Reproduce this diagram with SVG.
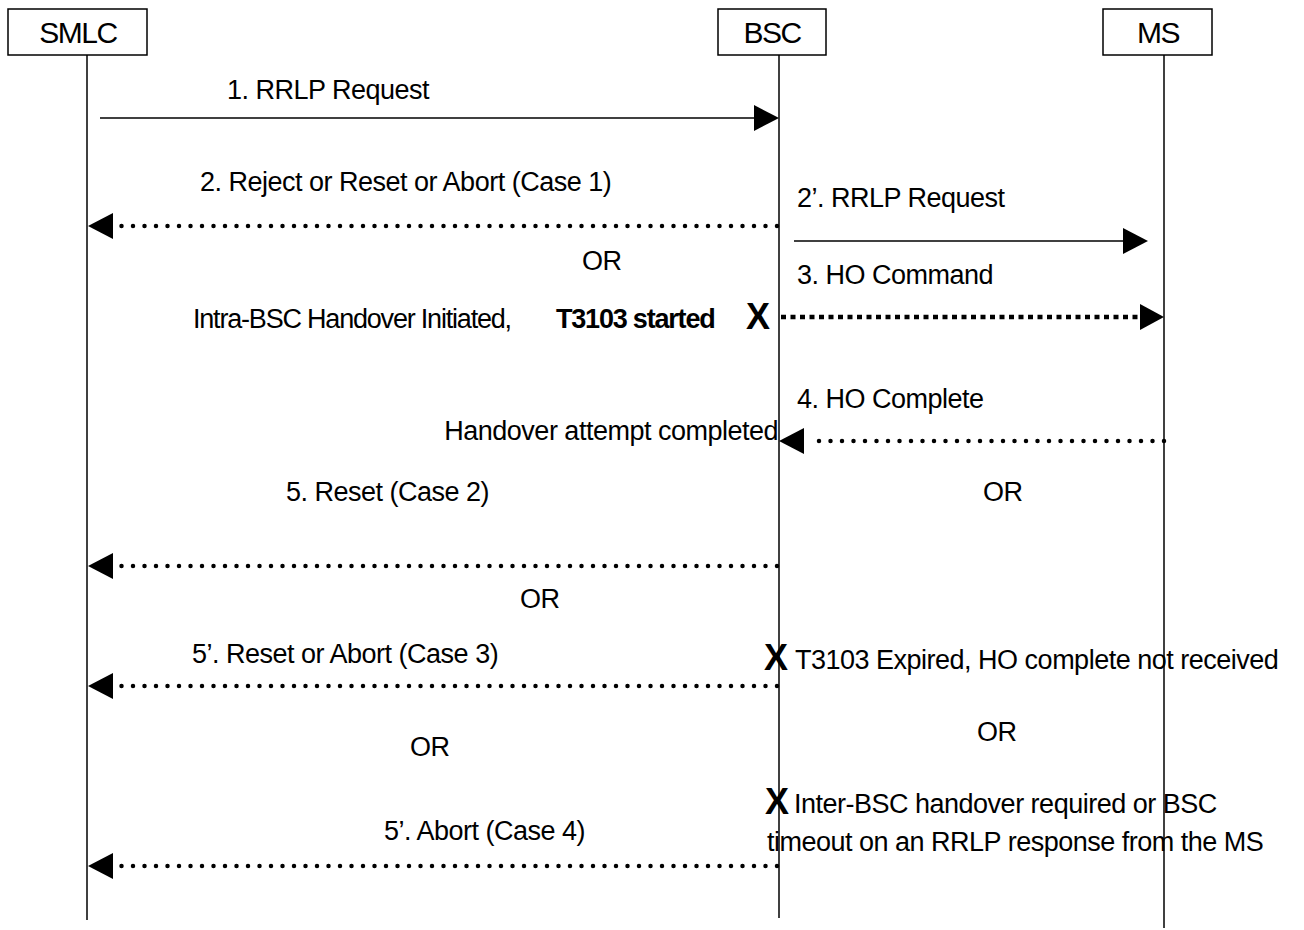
<svg xmlns="http://www.w3.org/2000/svg" width="1304" height="930" viewBox="0 0 1304 930">
<style>
text{font-family:"Liberation Sans",Arial,sans-serif;font-size:27px;letter-spacing:-0.5px;fill:#000}
.nm{font-size:30px;letter-spacing:-1.5px}
.t{letter-spacing:-1.2px}
.b{font-weight:bold;letter-spacing:-1.2px}
.x{font-weight:bold;font-size:36px;letter-spacing:0}
.box{fill:#fff;stroke:#000;stroke-width:1.5}
.life{stroke:#000;stroke-width:1.5}
.solid{stroke:#000;stroke-width:1.5;fill:none}
.dot{stroke:#000;stroke-width:4.5;fill:none;stroke-dasharray:0 11.5;stroke-linecap:round}
.dash{stroke:#000;stroke-width:4.5;fill:none;stroke-dasharray:5 4.5}
.head{fill:#000}
</style>
<rect width="1304" height="930" fill="#fff"/>
<g id="SMLC">
<rect class="box" x="8" y="9" width="139" height="46"/>
<text class="nm" x="78" y="43" text-anchor="middle">SMLC</text>
<line class="life" x1="87" y1="55" x2="87" y2="920"/>
</g>
<g id="BSC">
<rect class="box" x="718" y="9" width="108" height="46"/>
<text class="nm" x="772" y="43" text-anchor="middle">BSC</text>
<line class="life" x1="779" y1="55" x2="779" y2="918"/>
</g>
<g id="MS">
<rect class="box" x="1103" y="9" width="109" height="46"/>
<text class="nm" x="1158" y="43" text-anchor="middle">MS</text>
<line class="life" x1="1164" y1="55" x2="1164" y2="928"/>
</g>
<g id="connectors">
<line class="solid" x1="100" y1="118" x2="756" y2="118"/>
<polygon class="head" points="779,118 754,105 754,131"/>
<line class="dot" x1="777" y1="226" x2="120" y2="226"/>
<polygon class="head" points="88,226 113,213 113,239"/>
<line class="solid" x1="794" y1="241" x2="1125" y2="241"/>
<polygon class="head" points="1148,241 1123,228 1123,254"/>
<line class="dash" x1="781" y1="317" x2="1141" y2="317"/>
<polygon class="head" points="1164,317 1140,304 1140,330"/>
<line class="dot" x1="1164" y1="441" x2="814" y2="441"/>
<polygon class="head" points="779,441 804,428 804,454"/>
<line class="dot" x1="777" y1="566" x2="120" y2="566"/>
<polygon class="head" points="88,566 113,553 113,579"/>
<line class="dot" x1="777" y1="686" x2="120" y2="686"/>
<polygon class="head" points="88,686 113,673 113,699"/>
<line class="dot" x1="777" y1="866" x2="120" y2="866"/>
<polygon class="head" points="88,866 113,853 113,879"/>
</g>
<g id="labels">
<text x="227" y="99">1. RRLP Request</text>
<text x="200" y="191">2. Reject or Reset or Abort (Case 1)</text>
<text x="797" y="207">2’. RRLP Request</text>
<text x="582" y="270">OR</text>
<text x="797" y="284">3. HO Command</text>
<text class="t" x="193" y="328">Intra-BSC Handover Initiated,</text>
<text class="b" x="556" y="328">T3103 started</text>
<text class="x" x="746" y="329">X</text>
<text x="797" y="408">4. HO Complete</text>
<text x="778" y="440" text-anchor="end">Handover attempt completed</text>
<text x="286" y="501">5. Reset (Case 2)</text>
<text x="983" y="501">OR</text>
<text x="520" y="608">OR</text>
<text x="192" y="663">5’. Reset or Abort (Case 3)</text>
<text class="x" x="764" y="670">X</text>
<text x="795" y="669">T3103 Expired, HO complete not received</text>
<text x="977" y="741">OR</text>
<text x="410" y="756">OR</text>
<text class="x" x="765" y="814">X</text>
<text x="794" y="813">Inter-BSC handover required or BSC</text>
<text x="767" y="851">timeout on an RRLP response from the MS</text>
<text x="384" y="840">5’. Abort (Case 4)</text>
</g>
</svg>
